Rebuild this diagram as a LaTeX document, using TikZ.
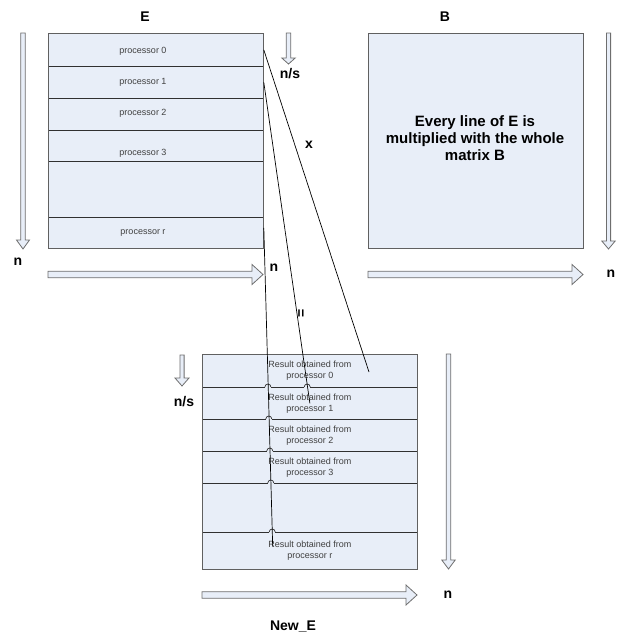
\documentclass[tikz,border=0pt]{standalone}
\usepackage{fontspec}
\setmainfont{Liberation Sans}
\usetikzlibrary{calc}
\definecolor{boxblue}{HTML}{E8EEF8}
\definecolor{edgegray}{HTML}{606060}
\definecolor{rowline}{HTML}{303030}
\definecolor{arrowedge}{HTML}{6E6E6E}
\definecolor{smalltext}{HTML}{404040}
\newcommand{\vfatarrow}[6]{%
  \draw[fatarrow] (#1-#4,#2) -- (#1+#4,#2) -- (#1+#4,#3-#6) -- (#1+#5,#3-#6) -- (#1,#3) -- (#1-#5,#3-#6) -- (#1-#4,#3-#6) -- cycle;}
\newcommand{\hfatarrow}[6]{%
  \draw[fatarrow] (#2,#1-#4) -- (#2,#1+#4) -- (#3-#6,#1+#4) -- (#3-#6,#1+#5) -- (#3,#1) -- (#3-#6,#1-#5) -- (#3-#6,#1-#4) -- cycle;}
\newcommand{\hopmark}[2]{%
  \fill[boxblue] (#1-3,#2-0.8) rectangle (#1+3,#2+0.8);
  \draw[rowline, line width=0.7pt] (#1-3,#2) arc (180:360:3);}
\tikzset{
  rowbox/.style={draw=rowline, fill=boxblue, line width=0.8pt, minimum width=215pt,
    inner sep=0pt, anchor=north west, text=smalltext, align=center,
    font=\fontsize{9}{11}\selectfont},
  frame/.style={draw=edgegray, line width=1.2pt, minimum width=215pt, minimum height=215pt,
    inner sep=0pt, anchor=north west},
  ptext/.style={text=smalltext, font=\fontsize{9}{11}\selectfont, inner sep=0pt},
  lbl/.style={font=\fontsize{14}{16}\selectfont\bfseries, inner sep=0pt},
  fatarrow/.style={draw=arrowedge, fill=boxblue, line width=0.8pt, line join=miter},
  conn/.style={draw=black, line width=0.7pt},
}
\begin{document}
\begin{tikzpicture}[x=1pt,y=-1pt]
\useasboundingbox (0,0) rectangle (620,637);
% E matrix rows
\node[rowbox, minimum height=33pt] (e0) at (48,33) {};
\node[rowbox, minimum height=32pt] (e1) at (48,66) {};
\node[rowbox, minimum height=32pt] (e2) at (48,98) {};
\node[rowbox, minimum height=31pt] (e3) at (48,130) {};
\node[rowbox, minimum height=56pt] (e4) at (48,161) {};
\node[rowbox, minimum height=31pt] (e5) at (48,217) {};
\node[frame] (Eframe) at (48,33) {};
\node[ptext] (p0) at (143,51) {processor 0};
\node[ptext] (p1) at (143,82) {processor 1};
\node[ptext] (p2) at (143,113) {processor 2};
\node[ptext] (p3) at (143,153) {processor 3};
\node[ptext] (pr) at (143,233) {processor r};
% B matrix
\node[frame, fill=boxblue] (Bbox) at (368,33) {};
\node[font=\fontsize{15}{17}\selectfont\bfseries, align=center, inner sep=0pt] (Btext) at (475,138.5)
  {Every line of E is\\multiplied with the whole\\matrix B};
% New_E rows
\node[rowbox, minimum height=33pt] (r0) at (202,354) {Result obtained from\\processor 0};
\node[rowbox, minimum height=32pt] (r1) at (202,387) {Result obtained from\\processor 1};
\node[rowbox, minimum height=32pt] (r2) at (202,419) {Result obtained from\\processor 2};
\node[rowbox, minimum height=32pt] (r3) at (202,451) {Result obtained from\\processor 3};
\node[rowbox, minimum height=49pt] (r4) at (202,483) {};
\node[rowbox, minimum height=37pt] (r5) at (202,532) {Result obtained from\\processor r};
\node[frame, minimum height=215pt] (Nframe) at (202,354) {};
% hops on row borders
\hopmark{267.9}{387}
\hopmark{307.2}{387}
\hopmark{268.8}{419}
\hopmark{269.8}{451}
\hopmark{270.8}{483}
\hopmark{272.2}{532}
% fat arrows
\vfatarrow{23}{33}{249}{2.3}{6.5}{9}
\vfatarrow{288.5}{33}{64}{2.3}{6.7}{6}
\vfatarrow{608.5}{33}{249}{2.1}{6.7}{8}
\vfatarrow{182}{355}{386}{2.1}{7}{8}
\vfatarrow{448.5}{354}{569}{2.3}{6.7}{9}
\hfatarrow{274.5}{48}{263}{3.3}{10}{11}
\hfatarrow{274.5}{368}{583}{3.3}{10}{11}
\hfatarrow{595}{202}{417}{3.3}{10}{11}
% connectors
\coordinate (c0end) at (369,372);
\coordinate (crend) at (272.7,546.7);
\draw[conn] (e0.east) -- (c0end);
\draw[conn] (e1.east) -- (r1.center);
\draw[conn] ([yshift=5pt]e5.east) -- (crend);
% labels
\node[lbl] (lE) at (145,17) {E};
\node[lbl] (lB) at (445,17) {B};
\node[lbl] (lns1) at (290,74) {n/s};
\node[lbl] (lx) at (309,145) {x};
\node[lbl] (ln1) at (18,262) {n};
\node[lbl] (ln2) at (274,268) {n};
\node[lbl] (ln3) at (611,274) {n};
\node[lbl, rotate=90] (leq) at (302,313) {=};
\node[lbl] (lns2) at (184,402) {n/s};
\node[lbl] (ln4) at (448,595) {n};
\node[lbl] (lnew) at (293,627) {New\_E};
\end{tikzpicture}
\end{document}
